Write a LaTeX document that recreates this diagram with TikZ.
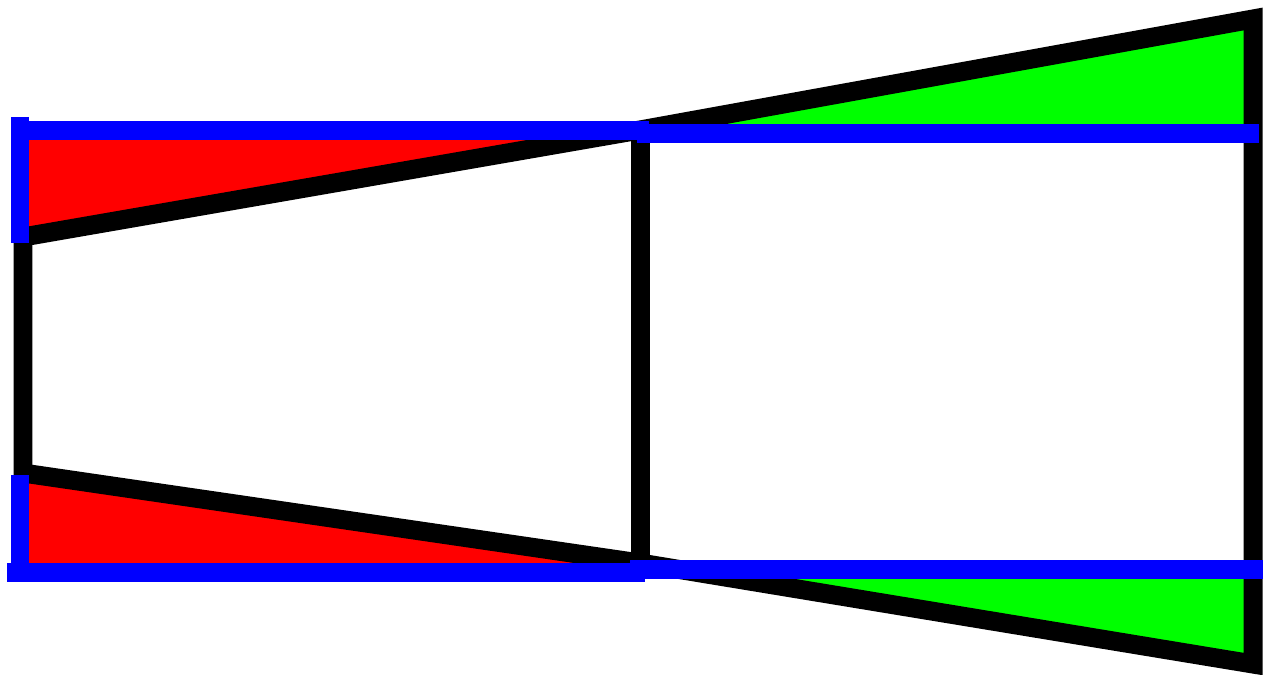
\documentclass[tikz,border=0pt]{standalone}
\usepackage{xcolor}
\usepackage{tikz}
\definecolor{pureblue}{RGB}{0,0,255}
\definecolor{purered}{RGB}{255,0,0}
\definecolor{puregreen}{RGB}{0,255,0}
\tikzset{
  frameline/.style={draw=black, line width=0.38cm, line join=miter},
  guide/.style={draw=pureblue, line width=0.38cm, line cap=butt},
  gapfill/.style={fill=#1, draw=none},
  gapfill/.default=purered,
}
\begin{document}
\begin{tikzpicture}[x=0.02cm, y=-0.02cm]
  \useasboundingbox (0,0) rectangle (1263,675);
  % corners of the two panels
  \coordinate (lt) at (23,237);
  \coordinate (lb) at (23,473);
  \coordinate (mt) at (640,130);
  \coordinate (mb) at (640,563);
  \coordinate (rt) at (1253,19);
  \coordinate (rb) at (1253,664);
  % filled gaps
  \fill[gapfill] (20,131) -- (640,131) -- (lt) -- cycle;
  \fill[gapfill] (20,572) -- (640,572) -- (mb) -- (lb) -- cycle;
  \fill[gapfill=puregreen] (mt) -- (rt) -- (1253,134) -- (640,134) -- cycle;
  \fill[gapfill=puregreen] (mb) -- (rb) -- (1253,569) -- (640,569) -- cycle;
  % panels
  \draw[frameline] (lt) -- (mt) -- (rt) -- (rb) -- (mb) -- (lb) -- cycle;
  \draw[frameline] (mt) -- (mb);
  % blue guides
  \draw[guide] (20,117) -- (20,243);
  \draw[guide] (11,131) -- (649,131);
  \draw[guide] (637,134) -- (1259,134);
  \draw[guide] (20,475) -- (20,580);
  \draw[guide] (7,572) -- (645,572);
  \draw[guide] (630,569) -- (1263,569);
\end{tikzpicture}
\end{document}
